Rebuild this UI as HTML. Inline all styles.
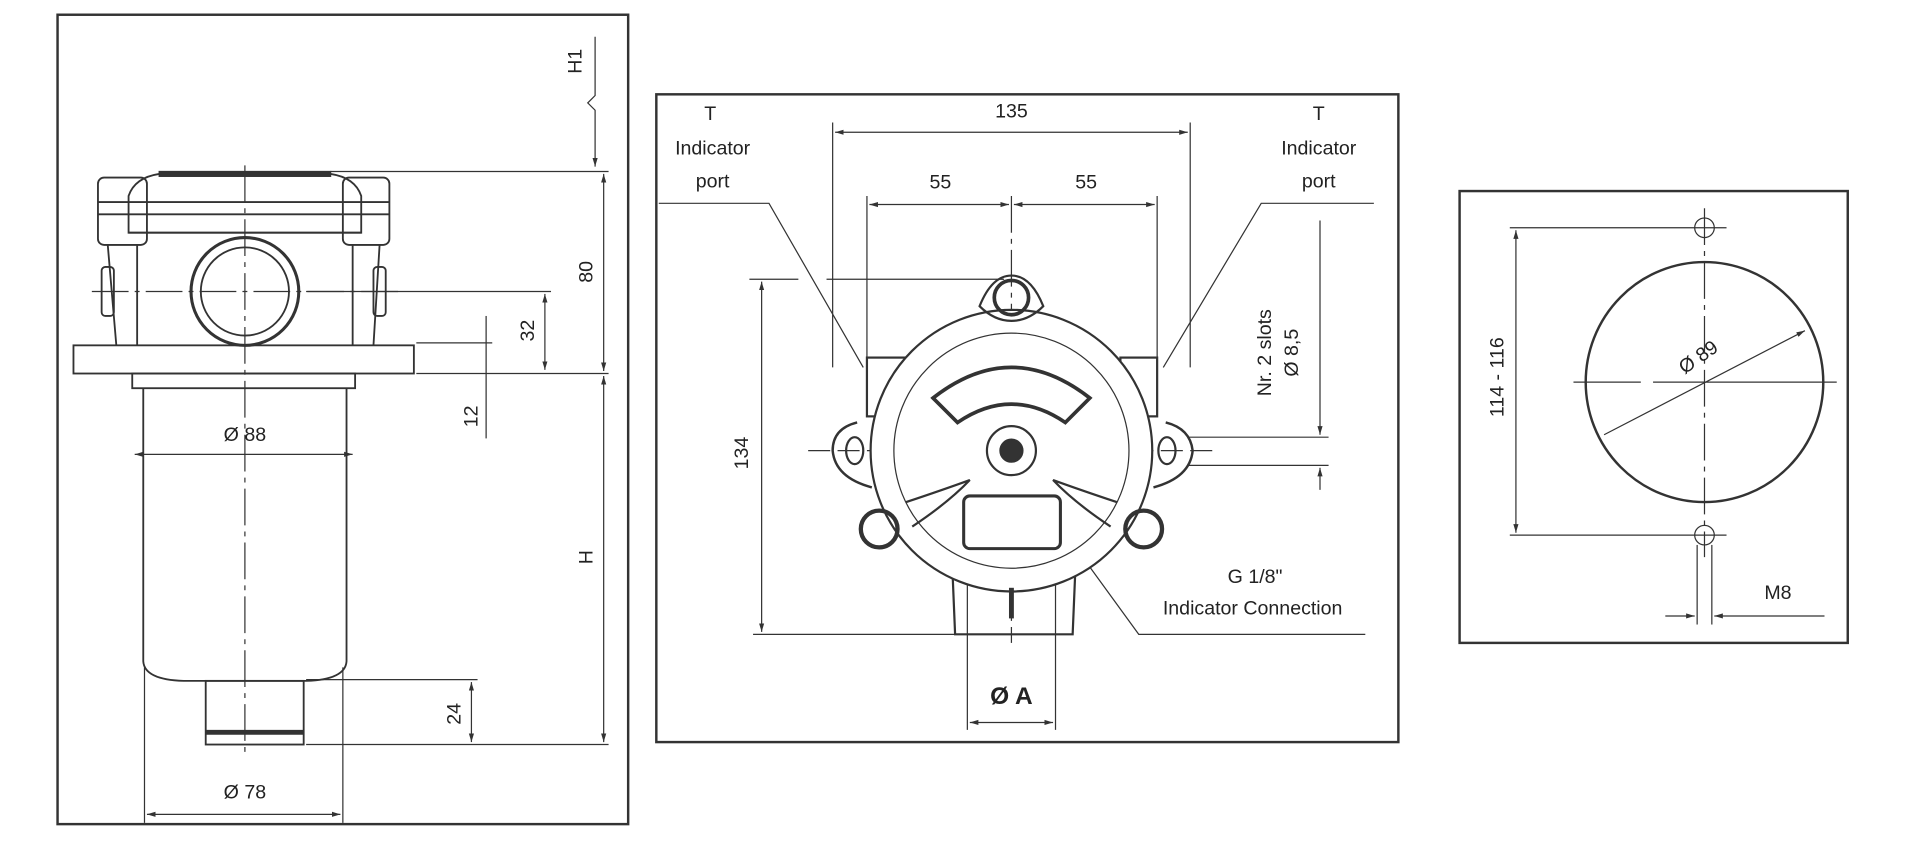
<!DOCTYPE html>
<html><head><meta charset="utf-8"><style>
html,body{margin:0;padding:0;background:#fff;width:1920px;height:856px;overflow:hidden}
svg{display:block}
text{font-family:"Liberation Sans",sans-serif;font-size:16px;fill:#222;text-anchor:middle}
</style></head><body>
<svg width="1920" height="856" viewBox="0 0 1568 699" xmlns="http://www.w3.org/2000/svg">
<defs><marker id="a" viewBox="0 0 10 10" refX="10" refY="5" markerWidth="7" markerHeight="7" orient="auto-start-reverse"><path d="M0,2 L10,5 L0,8z" fill="#333"/></marker></defs>
<g fill="none" stroke="#333" stroke-width="1">
<!-- frames -->
<rect x="47" y="12" width="466" height="661" stroke-width="2"/>
<rect x="536" y="77" width="606" height="529" stroke-width="2"/>
<rect x="1192" y="156" width="317" height="369" stroke-width="2"/>

<!-- LEFT -->
<polyline points="486,30 486,78 480,84 486,90 486,136" marker-end="url(#a)"/>
<line x1="270" y1="140" x2="497" y2="140"/>
<line x1="493" y1="142" x2="493" y2="303" marker-start="url(#a)" marker-end="url(#a)"/>
<line x1="493" y1="307" x2="493" y2="606" marker-start="url(#a)" marker-end="url(#a)"/>
<line x1="250" y1="238" x2="450" y2="238"/>
<line x1="445" y1="240" x2="445" y2="302" marker-start="url(#a)" marker-end="url(#a)"/>
<line x1="340" y1="280" x2="402" y2="280"/>
<line x1="340" y1="305" x2="497" y2="305"/>
<line x1="397" y1="258" x2="397" y2="358"/>
<line x1="250" y1="555" x2="390" y2="555"/>
<line x1="250" y1="608" x2="497" y2="608"/>
<line x1="385" y1="557" x2="385" y2="606" marker-start="url(#a)" marker-end="url(#a)"/>
<line x1="110" y1="371" x2="288" y2="371" marker-start="url(#a)" marker-end="url(#a)"/>
<line x1="118" y1="545" x2="118" y2="672"/>
<line x1="280" y1="545" x2="280" y2="672"/>
<line x1="120" y1="665" x2="278" y2="665" marker-start="url(#a)" marker-end="url(#a)"/>
<!-- head -->
<g stroke-width="1.5">
<path d="M105,190 L105,160 Q110,145 130,142 L270,142 Q290,145 295,160 L295,190 Z"/>
<rect x="80" y="145" width="40" height="55" rx="5"/>
<rect x="280" y="145" width="38" height="55" rx="5"/>
<line x1="80" y1="165" x2="318" y2="165"/>
<line x1="80" y1="175" x2="318" y2="175"/>
<line x1="105" y1="190" x2="295" y2="190"/>
<path d="M88,200 L95,282 M112,200 L112,282 M310,200 L305,282 M288,200 L288,282"/>
<rect x="83" y="218" width="10" height="40" rx="3"/>
<rect x="305" y="218" width="10" height="40" rx="3"/>
<rect x="60" y="282" width="278" height="23"/>
<circle cx="200" cy="238" r="44" stroke-width="2.5"/>
<circle cx="200" cy="238" r="36"/>
<rect x="108" y="305" width="182" height="12"/>
<path d="M117,317 L117,540 Q118,555 150,556 L250,556 Q282,555 283,540 L283,317"/>
<rect x="168" y="556" width="80" height="52"/>
<line x1="168" y1="598" x2="248" y2="598" stroke-width="4"/>
</g>
<line x1="200" y1="135" x2="200" y2="615" stroke-dasharray="30,5,4,5"/>
<line x1="75" y1="238" x2="330" y2="238" stroke-dasharray="30,5,4,5"/>
<rect x="130" y="140" width="140" height="4" fill="#333"/>

<!-- MIDDLE -->
<polyline points="538,166 628,166 705,300"/>
<polyline points="1122,166 1030,166 950,300"/>
<line x1="680" y1="100" x2="680" y2="300"/>
<line x1="972" y1="100" x2="972" y2="300"/>
<line x1="682" y1="108" x2="970" y2="108" marker-start="url(#a)" marker-end="url(#a)"/>
<line x1="708" y1="160" x2="708" y2="300"/>
<line x1="945" y1="160" x2="945" y2="300"/>
<line x1="826" y1="160" x2="826" y2="525" stroke-dasharray="30,5,4,5"/>
<line x1="710" y1="167" x2="824" y2="167" marker-start="url(#a)" marker-end="url(#a)"/>
<line x1="828" y1="167" x2="943" y2="167" marker-start="url(#a)" marker-end="url(#a)"/>
<line x1="612" y1="228" x2="652" y2="228"/>
<line x1="675" y1="228" x2="820" y2="228"/>
<line x1="615" y1="518" x2="870" y2="518"/>
<line x1="622" y1="230" x2="622" y2="516" marker-start="url(#a)" marker-end="url(#a)"/>
<line x1="660" y1="368" x2="990" y2="368" stroke-dasharray="18,6"/>
<line x1="1078" y1="180" x2="1078" y2="355" marker-end="url(#a)"/>
<line x1="1078" y1="400" x2="1078" y2="382" marker-end="url(#a)"/>
<line x1="970" y1="357" x2="1085" y2="357"/>
<line x1="970" y1="380" x2="1085" y2="380"/>
<polyline points="826,375 930,518 1115,518"/>
<line x1="790" y1="470" x2="790" y2="596"/>
<line x1="862" y1="470" x2="862" y2="596"/>
<line x1="792" y1="590" x2="860" y2="590" marker-start="url(#a)" marker-end="url(#a)"/>
<g stroke-width="1.8">
<rect x="708" y="292" width="32" height="48"/>
<rect x="915" y="292" width="30" height="48"/>
<path d="M778,470 L780,518 L876,518 L878,470"/>
<circle cx="826" cy="368" r="115" fill="#fff"/>
<path d="M700,345 Q680,350 680,368 Q682,390 712,398 M952,345 Q972,350 974,368 Q972,390 942,398" stroke-width="2"/>
<path d="M800,250 Q810,225 826,225 Q842,225 852,250 Q840,262 826,262 Q812,262 800,250Z"/>
<circle cx="826" cy="243" r="14" stroke-width="3"/>
<circle cx="718" cy="432" r="15" stroke-width="3.5"/>
<circle cx="934" cy="432" r="15" stroke-width="3.5"/>
<ellipse cx="698" cy="368" rx="7" ry="11"/>
<ellipse cx="953" cy="368" rx="7" ry="11"/>
<path d="M762,325 Q826,275 890,325 L870,345 Q826,315 782,345Z" stroke-width="3"/>
<circle cx="826" cy="368" r="20"/>
<circle cx="826" cy="368" r="9" fill="#333"/>
<rect x="787" y="405" width="79" height="43" rx="5" stroke-width="2.5"/>
<path d="M740,410 Q770,400 792,392 Q775,410 745,430 M912,410 Q882,400 860,392 Q877,410 907,430"/>
</g>
<circle cx="826" cy="368" r="96" stroke-width="1"/>
<line x1="826" y1="480" x2="826" y2="505" stroke-width="4"/>
<line x1="690" y1="400" x2="960" y2="400" stroke="none"/>

<!-- RIGHT -->
<circle cx="1392" cy="186" r="8"/>
<circle cx="1392" cy="437" r="8"/>
<ellipse cx="1392" cy="312" rx="97" ry="98" stroke-width="2"/>
<line x1="1392" y1="170" x2="1392" y2="455" stroke-dasharray="30,5,4,5"/>
<line x1="1285" y1="312" x2="1340" y2="312"/>
<line x1="1350" y1="312" x2="1500" y2="312"/>
<line x1="1233" y1="186" x2="1410" y2="186"/>
<line x1="1233" y1="437" x2="1410" y2="437"/>
<line x1="1238" y1="188" x2="1238" y2="435" marker-start="url(#a)" marker-end="url(#a)"/>
<line x1="1310" y1="355" x2="1474" y2="270" marker-end="url(#a)"/>
<line x1="1386" y1="445" x2="1386" y2="510"/>
<line x1="1398" y1="445" x2="1398" y2="510"/>
<line x1="1360" y1="503" x2="1384" y2="503" marker-end="url(#a)"/>
<line x1="1490" y1="503" x2="1400" y2="503" marker-end="url(#a)"/>
</g>

<!-- TEXT -->
<text transform="translate(475,50) rotate(-90)">H1</text>
<text transform="translate(484,222) rotate(-90)">80</text>
<text transform="translate(436,270) rotate(-90)">32</text>
<text transform="translate(390,340) rotate(-90)">12</text>
<text transform="translate(484,455) rotate(-90)">H</text>
<text transform="translate(376,583) rotate(-90)">24</text>
<text x="200" y="360">Ø 88</text>
<text x="200" y="652">Ø 78</text>

<text x="580" y="98">T</text>
<text x="582" y="126">Indicator</text>
<text x="582" y="153">port</text>
<text x="1077" y="98">T</text>
<text x="1077" y="126">Indicator</text>
<text x="1077" y="153">port</text>
<text x="826" y="96">135</text>
<text x="768" y="154">55</text>
<text x="887" y="154">55</text>
<text transform="translate(611,370) rotate(-90)">134</text>
<text transform="translate(1038,288) rotate(-90)">Nr. 2 slots</text>
<text transform="translate(1060,288) rotate(-90)">Ø 8,5</text>
<text x="1025" y="476">G 1/8"</text>
<text x="1023" y="502">Indicator Connection</text>
<text x="826" y="575" style="font-size:20px;font-weight:bold">Ø A</text>

<text transform="translate(1228,308) rotate(-90)">114 - 116</text>
<text transform="translate(1390,296) rotate(-35)">Ø 89</text>
<text x="1452" y="489">M8</text>
</svg>
</body></html>
